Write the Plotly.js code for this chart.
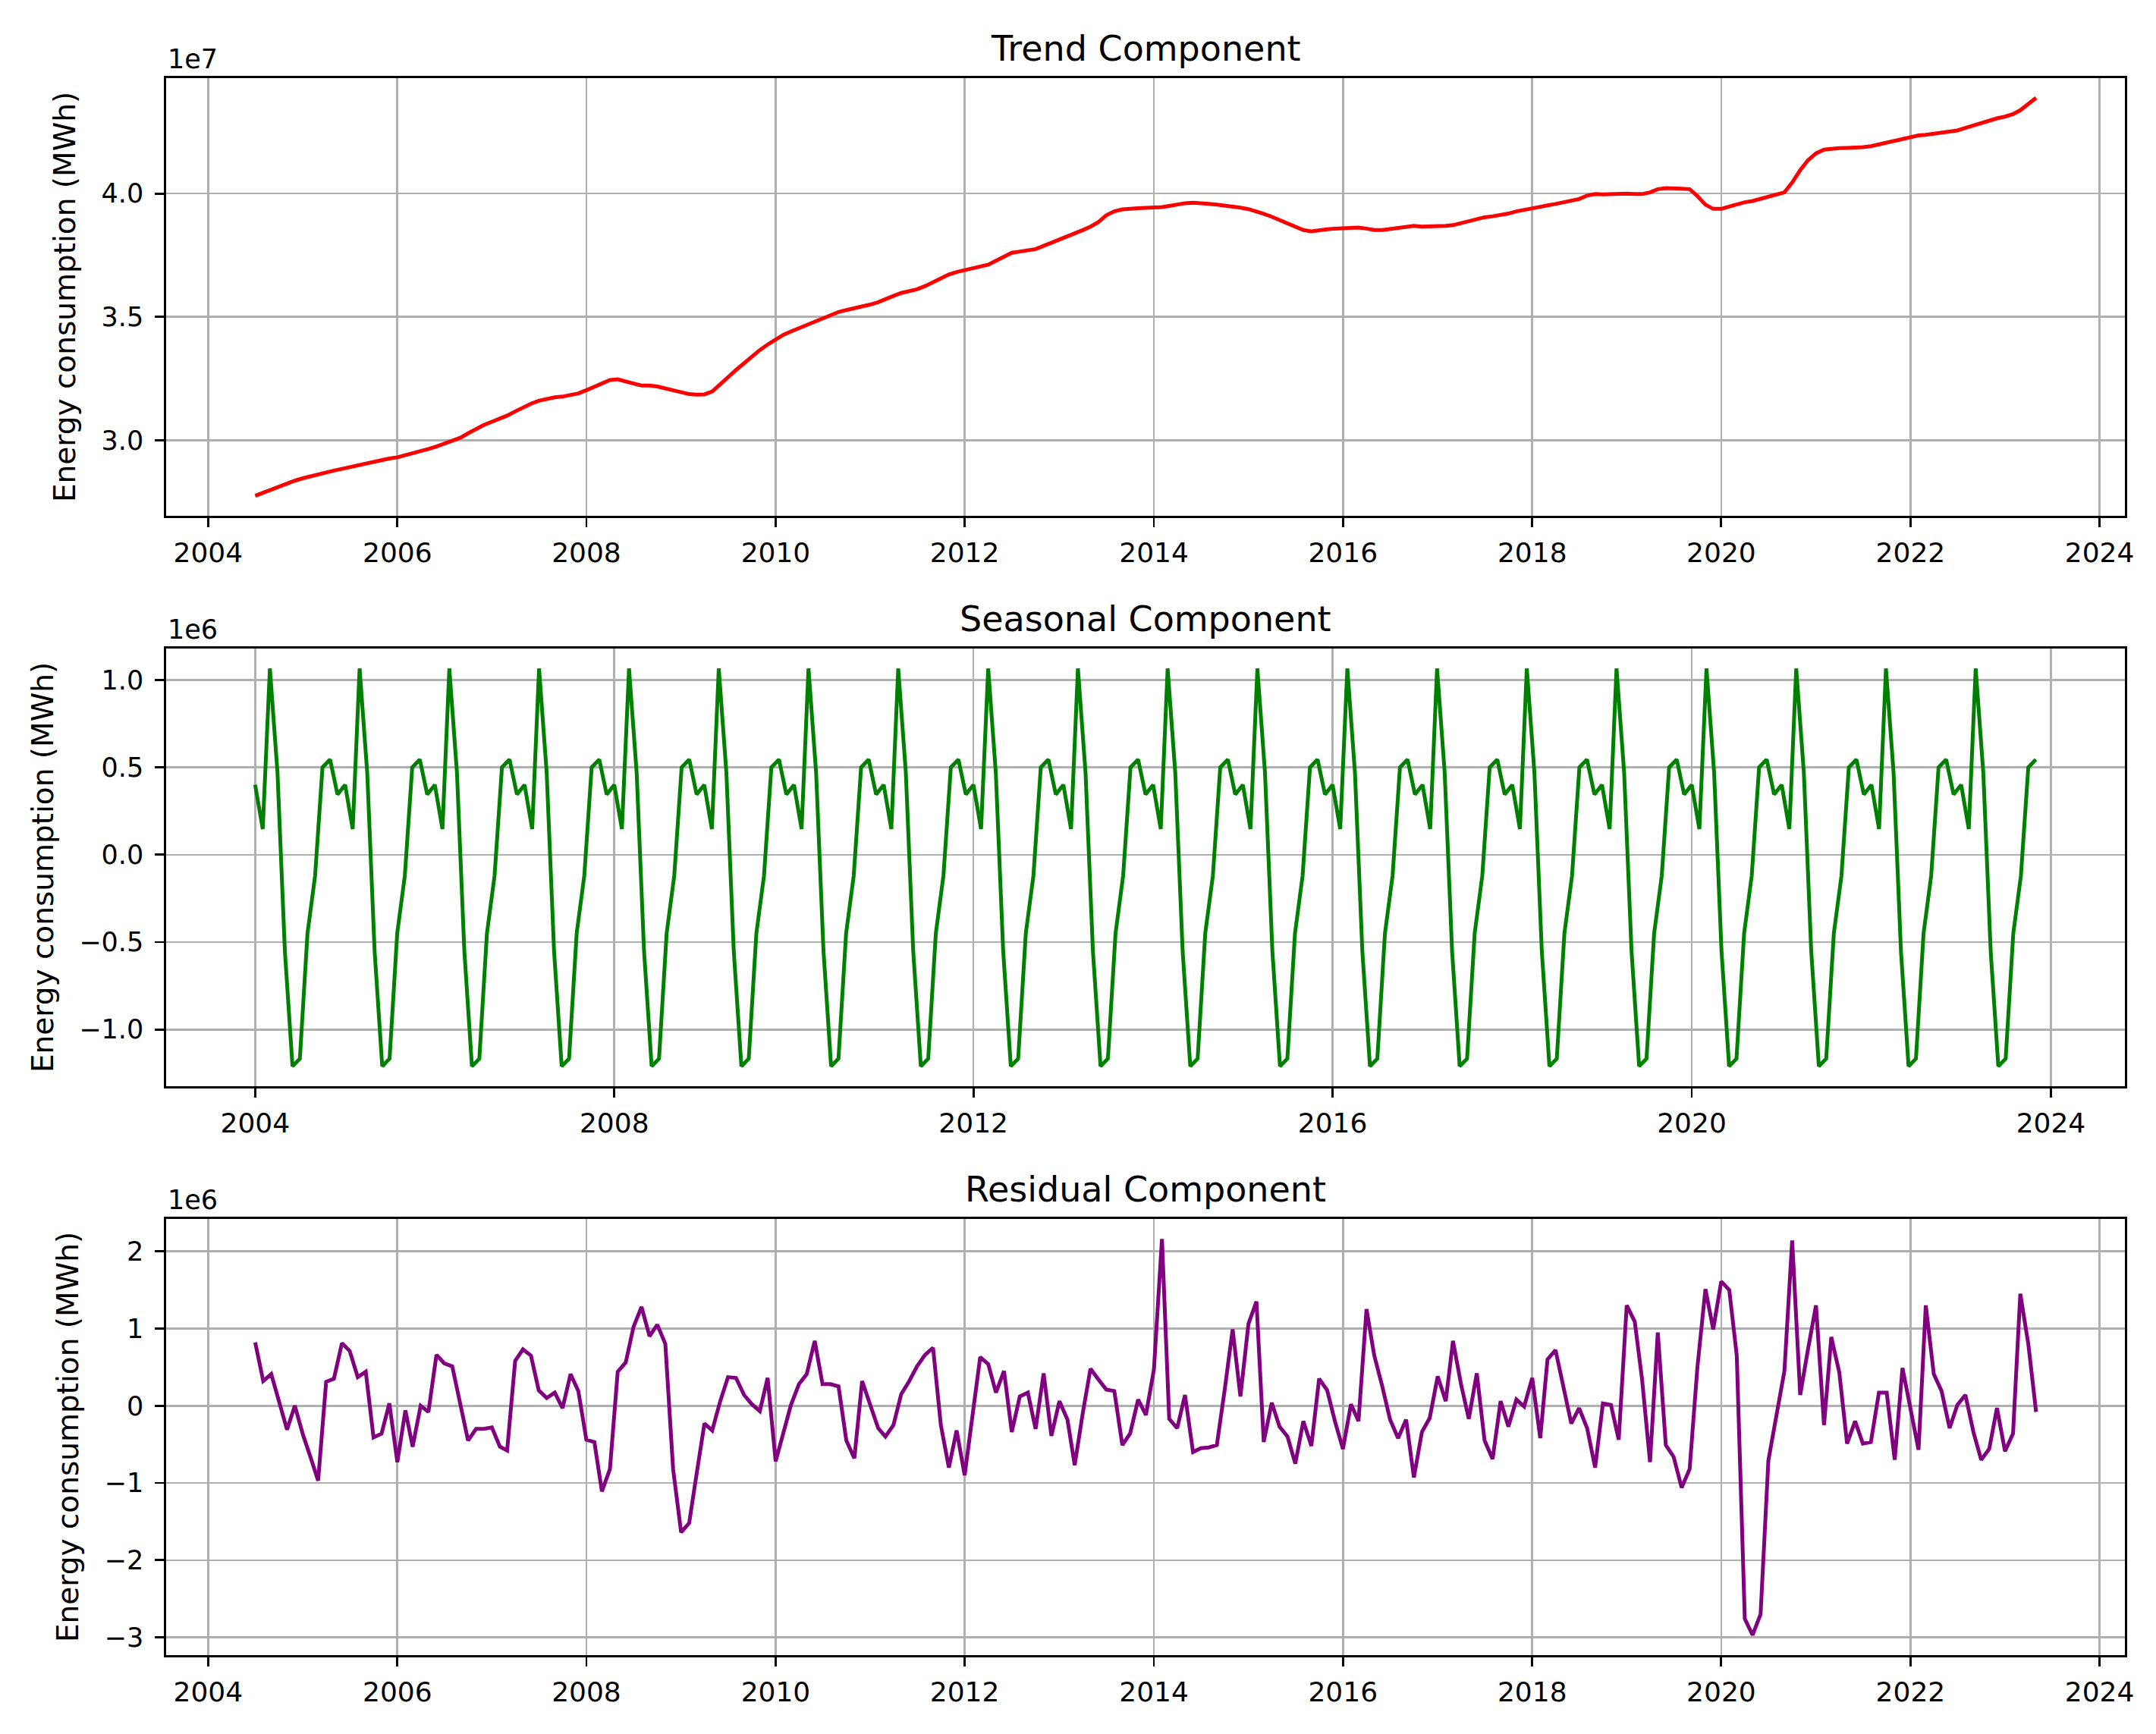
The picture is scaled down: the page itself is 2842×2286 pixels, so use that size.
<!DOCTYPE html>
<html>
<head>
<meta charset="utf-8">
<script src="https://cdn.plot.ly/plotly-3.0.1.min.js"></script>
<style>
  html, body { margin: 0; padding: 0; background: #fff; }
</style>
</head>
<body>
<div id="chart"></div>
<script>
// trend component, monthly from 2004-07 to 2023-05, in units of 1e7 MWh
var trendStart = [2004, 7];
var trendValues = [
  2.775, 2.788, 2.800, 2.813, 2.825, 2.836,                                        // 2004 Jul-Dec
  2.846, 2.855, 2.862, 2.870, 2.877, 2.884, 2.891, 2.899, 2.908, 2.915, 2.921, 2.926, // 2005
  2.931, 2.939, 2.947, 2.956, 2.965, 2.975, 2.987, 2.998, 3.010, 3.028, 3.047, 3.062, // 2006
  3.075, 3.088, 3.100, 3.117, 3.133, 3.148, 3.160, 3.168, 3.174, 3.177, 3.182, 3.190, // 2007
  3.203, 3.218, 3.232, 3.244, 3.247, 3.240, 3.230, 3.222, 3.222, 3.218, 3.210, 3.200, // 2008
  3.192, 3.187, 3.185, 3.186, 3.198, 3.225, 3.255, 3.285, 3.312, 3.340, 3.366, 3.388, // 2009
  3.410, 3.428, 3.441, 3.455, 3.466, 3.480, 3.496, 3.510, 3.520, 3.528, 3.535, 3.541, // 2010
  3.550, 3.560, 3.570, 3.585, 3.597, 3.606, 3.612, 3.625, 3.640, 3.658, 3.672, 3.682, // 2011
  3.690, 3.697, 3.705, 3.712, 3.728, 3.745, 3.760, 3.765, 3.770, 3.775, 3.788, 3.800, // 2012
  3.814, 3.826, 3.840, 3.852, 3.866, 3.885, 3.912, 3.928, 3.936, 3.940, 3.941, 3.942, // 2013
  3.943, 3.945, 3.950, 3.957, 3.961, 3.963, 3.962, 3.958, 3.955, 3.952, 3.948, 3.943, // 2014
  3.937, 3.928, 3.918, 3.906, 3.893, 3.880, 3.866, 3.852, 3.847, 3.852, 3.855, 3.858, // 2015
  3.860, 3.862, 3.862, 3.858, 3.852, 3.852, 3.856, 3.862, 3.867, 3.869, 3.866, 3.866, // 2016
  3.867, 3.869, 3.872, 3.880, 3.890, 3.898, 3.904, 3.908, 3.913, 3.919, 3.928, 3.935, // 2017
  3.940, 3.946, 3.952, 3.958, 3.965, 3.969, 3.978, 3.992, 3.998, 3.997, 3.998, 4.000, // 2018
  4.000, 3.998, 3.998, 4.005, 4.018, 4.022, 4.022, 4.020, 4.018, 3.990, 3.955, 3.938, // 2019
  3.938, 3.948, 3.958, 3.965, 3.970, 3.979, 3.988, 3.995, 4.005, 4.045, 4.095, 4.135, // 2020
  4.163, 4.178, 4.182, 4.184, 4.185, 4.186, 4.188, 4.192, 4.200, 4.208, 4.215, 4.222, // 2021
  4.228, 4.236, 4.238, 4.242, 4.246, 4.251, 4.256, 4.266, 4.276, 4.288, 4.296, 4.305, // 2022
  4.312, 4.322, 4.338, 4.362, 4.388                                                 // 2023 Jan-May
];

// seasonal component, one value per calendar month (Jan..Dec), in units of 1e6 MWh
var seasonalStart = [2004, 1];
var seasonalEnd = [2023, 11];
var seasonalByMonth = [0.40, 0.147, 1.066, 0.47, -0.55, -1.21, -1.167, -0.45, -0.12, 0.50, 0.545, 0.345];

// residual component, monthly from 2004-07 to 2023-05, in units of 1e6 MWh (rows run Jul..Jun)
var residualStart = [2004, 7];
var residualValues = [
  0.82, 0.32, 0.41, 0.04, -0.31, 0.00, -0.37, -0.68, -0.97, 0.31, 0.35, 0.81,
  0.71, 0.37, 0.44, -0.41, -0.36, 0.03, -0.73, -0.06, -0.53, 0.00, -0.08, 0.66,
  0.55, 0.51, 0.03, -0.45, -0.30, -0.30, -0.28, -0.53, -0.58, 0.58, 0.73, 0.65,
  0.20, 0.10, 0.17, -0.03, 0.41, 0.19, -0.44, -0.47, -1.11, -0.82, 0.44, 0.56,
  1.02, 1.28, 0.90, 1.05, 0.80, -0.82, -1.64, -1.52, -0.90, -0.23, -0.32, 0.06,
  0.37, 0.36, 0.14, 0.02, -0.07, 0.36, -0.72, -0.34, 0.01, 0.28, 0.41, 0.84,
  0.28, 0.28, 0.25, -0.45, -0.68, 0.32, 0.01, -0.29, -0.40, -0.25, 0.15, 0.32,
  0.51, 0.66, 0.75, -0.25, -0.80, -0.32, -0.90, -0.14, 0.63, 0.54, 0.17, 0.45,
  -0.34, 0.12, 0.17, -0.30, 0.42, -0.39, 0.06, -0.18, -0.77, -0.10, 0.48, 0.34,
  0.21, 0.19, -0.51, -0.36, 0.08, -0.12, 0.47, 2.16, -0.17, -0.29, 0.14, -0.60,
  -0.55, -0.54, -0.51, 0.20, 0.99, 0.12, 1.06, 1.35, -0.47, 0.04, -0.27, -0.40,
  -0.75, -0.20, -0.52, 0.35, 0.20, -0.20, -0.56, 0.02, -0.20, 1.25, 0.65, 0.25,
  -0.18, -0.42, -0.18, -0.93, -0.34, -0.16, 0.38, 0.06, 0.84, 0.28, -0.17, 0.42,
  -0.45, -0.69, 0.06, -0.27, 0.08, -0.01, 0.36, -0.42, 0.60, 0.72, 0.25, -0.23,
  -0.03, -0.29, -0.80, 0.03, 0.01, -0.44, 1.30, 1.09, 0.35, -0.73, 0.95, -0.51,
  -0.66, -1.06, -0.82, 0.50, 1.51, 0.99, 1.61, 1.50, 0.65, -2.76, -2.97, -2.70,
  -0.71, -0.16, 0.45, 2.14, 0.14, 0.73, 1.30, -0.25, 0.89, 0.43, -0.49, -0.20,
  -0.49, -0.47, 0.17, 0.17, -0.70, 0.49, -0.05, -0.57, 1.30, 0.41, 0.19, -0.29,
  0.01, 0.14, -0.34, -0.70, -0.56, -0.03, -0.59, -0.36, 1.45, 0.80, -0.08
];

var titles = ['Trend Component', 'Seasonal Component', 'Residual Component'];
var offsets = ['1e7', '1e6', '1e6'];
var yLabel = 'Energy consumption (MWh)';

function monthDates(start, n) {
  var out = [];
  for (var i = 0; i < n; i++) {
    var m = start[1] - 1 + i;
    var y = start[0] + Math.floor(m / 12);
    var mm = (m % 12) + 1;
    out.push(y + '-' + (mm < 10 ? '0' + mm : mm) + '-01');
  }
  return out;
}

var seasonalCount = (seasonalEnd[0] - seasonalStart[0]) * 12 + (seasonalEnd[1] - seasonalStart[1]) + 1;
var seasonalDates = monthDates(seasonalStart, seasonalCount);
var seasonalValues = [];
for (var i = 0; i < seasonalCount; i++) {
  seasonalValues.push(seasonalByMonth[(seasonalStart[1] - 1 + i) % 12]);
}

var font = 'DejaVu Sans, Verdana, sans-serif';

var data = [
  { x: monthDates(trendStart, trendValues.length), y: trendValues, type: 'scatter', mode: 'lines',
    line: { color: '#ff0000', width: 5 }, xaxis: 'x', yaxis: 'y', hoverinfo: 'x+y' },
  { x: seasonalDates, y: seasonalValues, type: 'scatter', mode: 'lines',
    line: { color: '#008000', width: 5 }, xaxis: 'x2', yaxis: 'y2', hoverinfo: 'x+y' },
  { x: monthDates(residualStart, residualValues.length), y: residualValues, type: 'scatter', mode: 'lines',
    line: { color: '#800080', width: 5 }, xaxis: 'x3', yaxis: 'y3', hoverinfo: 'x+y' }
];

function xAxis(range, dtick, anchor) {
  return {
    type: 'date', range: range, tick0: '2004-01-01', dtick: dtick, tickformat: '%Y',
    anchor: anchor, domain: [0, 1],
    showline: true, mirror: true, linecolor: '#000', linewidth: 2.8,
    ticks: 'outside', ticklen: 12, tickwidth: 2.8, tickcolor: '#000', ticklabelstandoff: 3,
    showgrid: true, gridcolor: '#b0b0b0', gridwidth: 2.6, zeroline: false,
    tickfont: { family: font, size: 36, color: '#000' }
  };
}

function yAxis(domain, range, dtick, fmt, anchor) {
  return {
    domain: domain, range: range, dtick: dtick, tick0: 0, tickformat: fmt, anchor: anchor,
    showline: true, mirror: true, linecolor: '#000', linewidth: 2.8,
    ticks: 'outside', ticklen: 12, tickwidth: 2.8, tickcolor: '#000', ticklabelstandoff: 8,
    showgrid: true, gridcolor: '#b0b0b0', gridwidth: 2.6, zeroline: false,
    tickfont: { family: font, size: 35, color: '#000' },
    title: { text: yLabel, font: { family: font, size: 39, color: '#000' }, standoff: 22 }
  };
}

var domains = [[0.7225, 1], [0.3608, 0.6383], [0, 0.2766]];

var annotations = [];
for (var k = 0; k < 3; k++) {
  annotations.push({
    text: titles[k], xref: 'paper', yref: 'paper', x: 0.5, y: domains[k][1],
    xanchor: 'center', yanchor: 'bottom', yshift: 10, showarrow: false,
    font: { family: font, size: 46, color: '#000' }
  });
  annotations.push({
    text: offsets[k], xref: 'paper', yref: 'paper', x: 0, y: domains[k][1],
    xanchor: 'left', yanchor: 'bottom', yshift: 3, showarrow: false,
    font: { family: font, size: 35, color: '#000' }
  });
}

var layout = {
  width: 2842, height: 2286,
  margin: { l: 219, r: 41, t: 103, b: 104 },
  paper_bgcolor: '#fff', plot_bgcolor: '#fff',
  showlegend: false,
  font: { family: font, color: '#000' },
  xaxis: xAxis(['2003-07-23', '2024-04-08'], 'M24', 'y'),
  yaxis: yAxis(domains[0], [2.694, 4.468], 0.5, '.1f', 'x'),
  xaxis2: xAxis(['2003-01-04', '2024-10-28'], 'M48', 'y2'),
  yaxis2: yAxis(domains[1], [-1.324, 1.18], 0.5, '.1f', 'x2'),
  xaxis3: xAxis(['2003-07-23', '2024-04-08'], 'M24', 'y3'),
  yaxis3: yAxis(domains[2], [-3.23, 2.42], 1, 'd', 'x3'),
  annotations: annotations
};

Plotly.newPlot('chart', data, layout, { displayModeBar: false, staticPlot: true });
</script>
</body>
</html>
